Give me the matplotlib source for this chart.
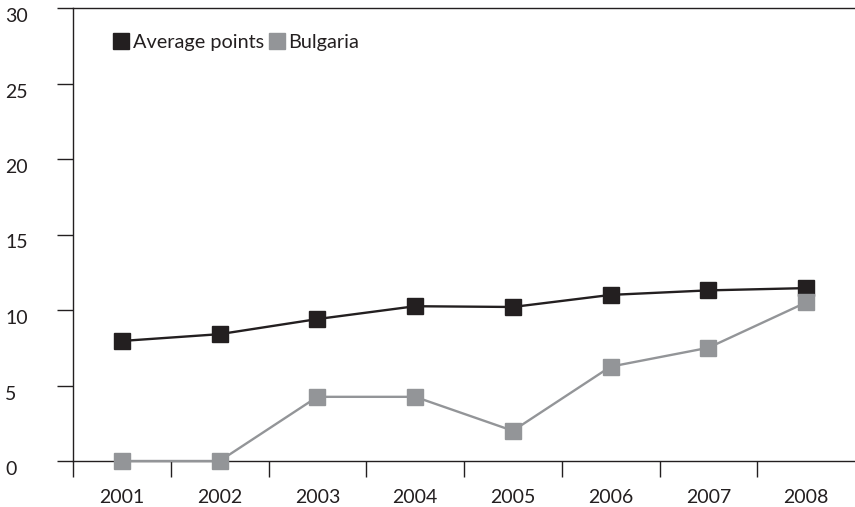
#!/usr/bin/env python3
"""Average points vs Bulgaria, 2001-2008."""

import matplotlib
matplotlib.use("Agg")
import matplotlib.pyplot as plt
from matplotlib.lines import Line2D
from matplotlib.transforms import blended_transform_factory
import numpy as np

years = ["2001", "2002", "2003", "2004", "2005", "2006", "2007", "2008"]
average_points = [7.95, 8.4, 9.4, 10.25, 10.2, 11.0, 11.3, 11.45]
bulgaria = [0.0, 0.0, 4.25, 4.25, 2.0, 6.25, 7.5, 10.5]
y_ticks = [0, 5, 10, 15, 20, 25, 30]

BLACK = "#231f20"
GREY = "#939598"

plt.rcParams.update({
    "font.family": ["Lato", "DejaVu Sans"],
    "font.size": 14,
    "text.color": BLACK,
})

fig = plt.figure(figsize=(8.55, 5.07), dpi=100)
ax = fig.add_axes([73 / 855, 1 - 461 / 507, 782 / 855, 453 / 507])

x = np.arange(len(years))
ax.plot(x, average_points, color=BLACK, lw=1.7, marker="s", ms=11.5, zorder=3, clip_on=False)
ax.plot(x, bulgaria, color=GREY, lw=1.7, marker="s", ms=11.5, zorder=4, clip_on=False)

ax.set_xlim(-0.5, len(years) - 0.5)
ax.set_ylim(0, 30)

# category labels at centres, tick marks between categories
ax.set_xticks(x)
ax.set_xticklabels(years)
ax.set_xticks(np.arange(len(years)) - 0.5, minor=True)
ax.tick_params(axis="x", which="major", length=0, pad=20.5, labelsize=14, labelcolor=BLACK)
ax.tick_params(axis="x", which="minor", length=11.5, width=1, color=BLACK, direction="out")

ax.set_yticks(y_ticks)
ax.set_yticklabels([])
ax.tick_params(axis="y", length=11.5, width=1, color=BLACK, direction="out")
trans = blended_transform_factory(fig.transFigure, ax.transData)
for v in y_ticks:
    ax.text(5 / 855, v, str(v), transform=trans, ha="left", va="top",
            fontsize=14, color=BLACK)

for side in ("left", "bottom", "top"):
    ax.spines[side].set_color(BLACK)
    ax.spines[side].set_linewidth(1)
ax.spines["right"].set_visible(False)

handles = [
    Line2D([], [], ls="none", marker="s", ms=11, color=BLACK),
    Line2D([], [], ls="none", marker="s", ms=11, color=GREY),
]
ax.legend(handles, ["Average points", "Bulgaria"], loc="center left",
          bbox_to_anchor=(0.042, 0.923), ncol=2, frameon=False,
          handlelength=0.75, handletextpad=0.2, columnspacing=0.3,
          fontsize=14.3, borderaxespad=0)

fig.savefig("out.png", dpi=100)
